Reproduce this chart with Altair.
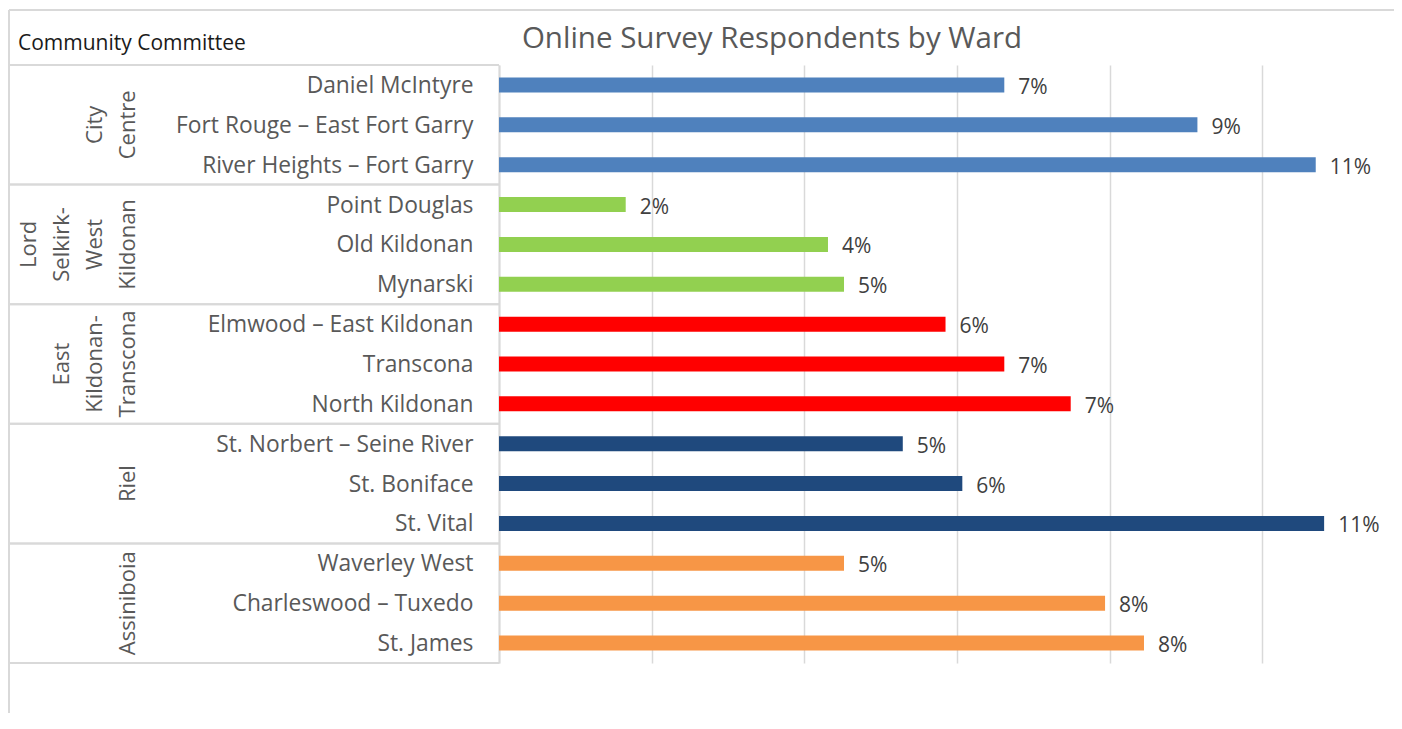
import altair as alt
import pandas as pd

wards = ["Daniel McIntyre", "Fort Rouge – East Fort Garry", "River Heights – Fort Garry",
         "Point Douglas", "Old Kildonan", "Mynarski",
         "Elmwood – East Kildonan", "Transcona", "North Kildonan",
         "St. Norbert – Seine River", "St. Boniface", "St. Vital",
         "Waverley West", "Charleswood – Tuxedo", "St. James"]
committee_names = ["City Centre", "Lord Selkirk-West Kildonan", "East Kildonan-Transcona",
                   "Riel", "Assiniboia"]
committee_lines = [["City", "Centre"], ["Lord", "Selkirk-", "West", "Kildonan"],
                   ["East", "Kildonan-", "Transcona"], ["Riel"], ["Assiniboia"]]
committee_colors = ["#4F81BD", "#92D050", "#FF0000", "#1F497D", "#F79646"]
ward_committee = [c for c in committee_names for _ in range(3)]
shares = [0.0662, 0.0915, 0.1070, 0.0166, 0.0431, 0.0452, 0.0585, 0.0662, 0.0749,
          0.0529, 0.0607, 0.1081, 0.0452, 0.0794, 0.0845]
tick_values = [0.0, 0.02, 0.04, 0.06, 0.08, 0.10]
title_text = "Online Survey Respondents by Ward"
header_text = "Community Committee"

FONT = "Open Sans"
GRID = "#d9d9d9"
W, H = 895, 598
PAD_L, PAD_T, PAD_B = 491, 57, 50
LINE_H = 33

df = pd.DataFrame({"ward": wards, "committee": ward_committee, "share": shares})
groups = pd.DataFrame({
    "committee": committee_names,
    "lines": committee_lines,
    "first": wards[0::3],
    "mid": wards[1::3],
    "last": wards[2::3],
})

y_scale = alt.Scale(domain=wards, paddingInner=0, paddingOuter=0)
x_scale = alt.Scale(domain=[0, W / 152.66 * 0.02], nice=False, zero=True)

base = alt.Chart(df)

bars = base.mark_bar(size=15).encode(
    y=alt.Y("ward:N", sort=wards, scale=y_scale,
            axis=alt.Axis(title=None, ticks=False, labelPadding=26, labelFontSize=22.8,
                          labelFont=FONT, labelColor="#595959", domainColor=GRID,
                          domainWidth=2, labelLimit=480, labelOffset=1)),
    x=alt.X("share:Q", scale=x_scale,
            axis=alt.Axis(title=None, values=tick_values, labels=False, ticks=False,
                          domain=False, grid=True, gridColor=GRID, gridWidth=1.5)),
    color=alt.Color("committee:N", scale=alt.Scale(domain=committee_names,
                                                   range=committee_colors), legend=None),
)

labels = base.mark_text(align="left", baseline="middle", dx=14, dy=3, fontSize=21,
                        font=FONT, color="#404040").encode(
    y=alt.Y("ward:N", sort=wards, scale=y_scale),
    x=alt.X("share:Q", scale=x_scale),
    text=alt.Text("share:Q", format=".0%"),
)

gbase = alt.Chart(groups)
group_labels = gbase.transform_calculate(
    xpos=f"-359 - (length(datum.lines) - 1) * {LINE_H}"
).mark_text(angle=270, align="center", baseline="bottom", fontSize=22,
            font=FONT, color="#595959", lineHeight=LINE_H).encode(
    y=alt.Y("mid:N", sort=wards, scale=y_scale),
    x=alt.X("xpos:Q", scale=None),
    text="lines",
)
sep_top = gbase.mark_rule(color=GRID, strokeWidth=2).encode(
    y=alt.Y("first:N", sort=wards, scale=y_scale, bandPosition=0),
    x=alt.value(-490), x2=alt.value(0),
)
sep_bottom = gbase.mark_rule(color=GRID, strokeWidth=2).encode(
    y=alt.Y("last:N", sort=wards, scale=y_scale, bandPosition=1),
    x=alt.value(-490), x2=alt.value(0),
)

one = alt.Data(values=[{"t": title_text, "h": header_text}])
frame_top = alt.Chart(one).mark_rule(color=GRID, strokeWidth=2).encode(
    x=alt.value(-490), x2=alt.value(W), y=alt.value(-55))
frame_left = alt.Chart(one).mark_rule(color=GRID, strokeWidth=2).encode(
    x=alt.value(-490), y=alt.value(-55), y2=alt.value(H + PAD_B))
title = alt.Chart(one).mark_text(align="center", baseline="alphabetic", fontSize=29.5,
                                 font=FONT, color="#595959").encode(
    x=alt.value(273), y=alt.value(-17), text="t:N")
header = alt.Chart(one).mark_text(align="left", baseline="alphabetic", fontSize=21,
                                  font=FONT, color="#1a1a1a").encode(
    x=alt.value(-481), y=alt.value(-15), text="h:N")

chart = alt.layer(
    frame_top, frame_left, sep_top, sep_bottom, bars, labels, group_labels, title, header
).properties(
    width=W, height=H,
    autosize=alt.AutoSizeParams(type="none"),
    padding={"left": PAD_L, "top": PAD_T, "right": 0, "bottom": PAD_B},
).configure_view(stroke=None)

chart.save("out.html", embed_options={"renderer": "svg", "actions": False})
